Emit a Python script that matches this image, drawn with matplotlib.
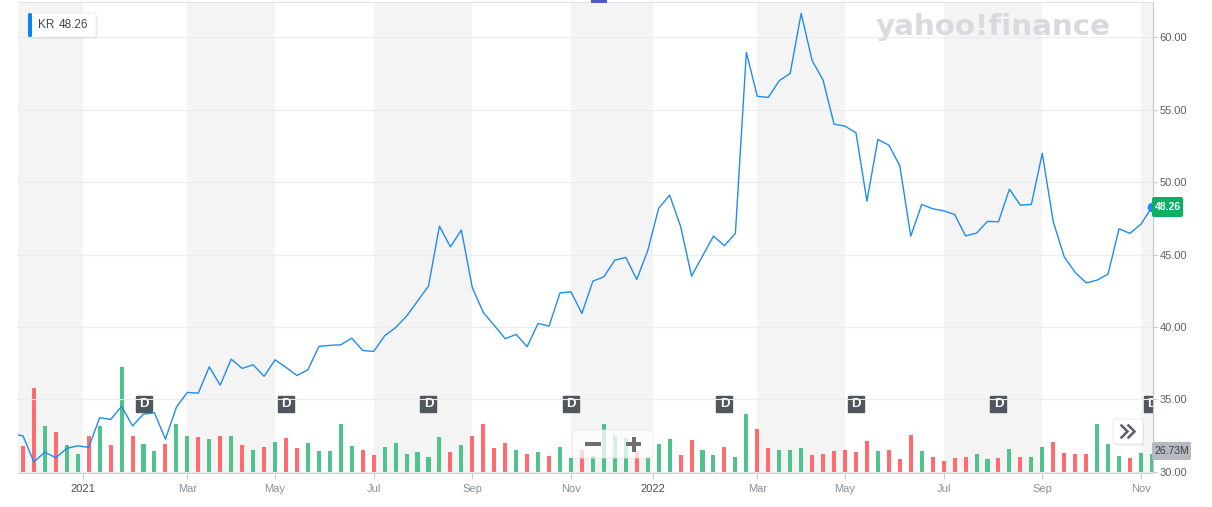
import numpy as np
import pandas as pd
import matplotlib
matplotlib.use("Agg")
import matplotlib.pyplot as plt
from matplotlib.patches import FancyBboxPatch, Rectangle
from matplotlib.lines import Line2D
from matplotlib.transforms import IdentityTransform

plt.rcParams["font.family"] = ["Liberation Sans", "DejaVu Sans"]

W, H = 1212, 507

# === Données (KR, hebdomadaire) ===
symbol = "KR"
first_week = "2020-11-16"
prev_close = 32.6
close = [
    32.47, 30.67, 31.34, 30.95, 31.60, 31.78, 31.67, 33.72, 33.60, 34.50,
    33.16, 33.97, 34.06, 32.24, 34.45, 35.47, 35.42, 37.24, 35.97, 37.77,
    37.13, 37.38, 36.58, 37.72, 37.20, 36.64, 37.03, 38.65, 38.72, 38.76,
    39.22, 38.37, 38.30, 39.38, 39.95, 40.74, 41.78, 42.82, 46.96, 45.53,
    46.69, 42.70, 41.00, 40.10, 39.18, 39.48, 38.63, 40.24, 40.05, 42.35,
    42.42, 40.93, 43.16, 43.46, 44.61, 44.80, 43.28, 45.26, 48.19, 49.10,
    46.95, 43.51, 44.89, 46.27, 45.61, 46.46, 58.97, 55.93, 55.86, 57.01,
    57.52, 61.66, 58.41, 57.05, 54.01, 53.87, 53.41, 48.69, 52.95, 52.56,
    51.13, 46.27, 48.46, 48.16, 48.02, 47.77, 46.29, 46.48, 47.29, 47.26,
    49.52, 48.41, 48.46, 51.99, 47.26, 44.84, 43.76, 43.04, 43.23, 43.65,
    46.78, 46.46, 47.10, 48.26,
]
volume_m = [
    37.6, 116.8, 64.5, 56.7, 38.6, 26.7, 51.3, 64.9, 39.0, 145.4,
    51.3, 40.4, 30.8, 40.4, 67.7, 51.3, 49.9, 47.2, 51.3, 51.3,
    39.0, 32.2, 36.3, 43.1, 48.6, 34.9, 41.7, 30.8, 30.8, 67.7,
    37.6, 32.2, 25.4, 36.3, 41.7, 26.7, 29.5, 22.6, 49.9, 29.5,
    39.0, 51.3, 67.7, 34.9, 41.7, 32.2, 26.7, 29.5, 24.0, 36.3,
    21.3, 32.2, 24.0, 67.7, 51.3, 48.6, 30.8, 22.6, 40.4, 47.2,
    25.4, 45.8, 32.2, 25.4, 36.3, 22.6, 81.3, 60.8, 34.9, 32.2,
    32.2, 34.9, 25.4, 26.7, 30.8, 32.2, 29.5, 44.5, 30.8, 32.2,
    19.9, 52.7, 30.8, 22.6, 17.2, 21.3, 22.6, 26.7, 19.9, 21.3,
    33.6, 22.6, 22.6, 36.3, 43.1, 28.1, 26.7, 26.7, 67.7, 40.4,
    24.0, 21.3, 28.1, 26.73,
]
dividend_weeks = [11, 24, 37, 50, 64, 76, 89, 103]
tick_dates = ["2021-01-01", "2021-03-01", "2021-05-01", "2021-07-01", "2021-09-01",
              "2021-11-01", "2022-01-01", "2022-03-01", "2022-05-01", "2022-07-01",
              "2022-09-01", "2022-11-01"]
tick_labels = ["2021", "Mar", "May", "Jul", "Sep", "Nov",
               "2022", "Mar", "May", "Jul", "Sep", "Nov"]

# === Positions ===
weeks = pd.date_range(first_week, periods=len(close), freq="7D")
idx = np.arange(len(close))


def week_pos(d):
    d = pd.Timestamp(d)
    k = weeks.searchsorted(d, side="right") - 1
    return k - 0.5 if d.month == 1 else float(k)


tick_pos = [week_pos(d) for d in tick_dates]
prev = [prev_close] + close[:-1]
bar_cols = ["#4fc38c" if c >= p else "#ff6b6e" for c, p in zip(close, prev)]

# === Figure ===
fig = plt.figure(figsize=(W / 100, H / 100), dpi=100)
L, R, T, B = 18, 1153, 2, 473.3
axv = fig.add_axes([L / W, 1 - B / H, (R - L) / W, (B - T) / H])
ax = axv.twinx()

xlim = (-0.45, 103.1)
axv.set_xlim(xlim)
axv.set_ylim(0, 643)
ax.set_ylim(29.88, 62.45)

# bandes grises un bimestre sur deux
edges = [xlim[0]] + tick_pos + [xlim[1]]
for a, b in zip(edges[0::2], edges[1::2]):
    axv.axvspan(a, b, color="#f4f4f5", lw=0, zorder=0.5)

axv.bar(idx, volume_m, width=0.37, color=bar_cols, zorder=2)

# filigrane
axv.text(876, H - 35, "yahoo!finance", transform=IdentityTransform(),
         family="DejaVu Sans", fontsize=21.2, fontweight="bold",
         color="#d8dade", va="baseline", ha="left", zorder=1)

# dividendes
xt = axv.get_xaxis_transform()
axv.plot(dividend_weeks, [0.147] * len(dividend_weeks), ls="", marker="s",
         ms=12.2, color="#50565d", transform=xt, zorder=4)
for k in dividend_weeks:
    axv.text(k, 0.147, "D", transform=xt, ha="center", va="center",
             color="white", fontsize=9.5, fontweight="bold", clip_on=True, zorder=5)

# axe x
axv.set_xticks(tick_pos)
axv.set_xticklabels(tick_labels)
axv.tick_params(axis="x", length=4, width=0.8, color="#c8c9cc", pad=4, labelsize=8)
for lab, txt in zip(axv.get_xticklabels(), tick_labels):
    lab.set_color("#4a4f57" if txt.isdigit() else "#8b9096")
axv.set_yticks([])
for s in ["left", "right"]:
    axv.spines[s].set_visible(False)
axv.spines["top"].set_color("#e2e2ec")
axv.spines["bottom"].set_color("#d3d4d6")

# prix
ax.set_yticks(np.arange(30, 61, 5))
ax.yaxis.set_major_formatter(lambda v, _: f"{v:.2f}")
ax.tick_params(axis="y", length=3, width=0.8, color="#c7c9cc", pad=1.5,
               labelsize=8, labelcolor="#5c6168")
ax.grid(axis="y", color="#ebebeb", lw=0.8)
for s in ["left", "top", "bottom"]:
    ax.spines[s].set_visible(False)
ax.spines["right"].set_color("#c6c8cb")

ax.plot(np.r_[-1, idx], [prev_close] + close, color="#1e8cf0", lw=1.0, zorder=3)
ax.plot(idx[-1], close[-1], "o", ms=6, color="#1e8cf0", clip_on=False, zorder=6)


# === éléments d'interface (coordonnées pixels) ===
def box(x0, y0, x1, y1, **kw):
    p = FancyBboxPatch((x0, H - y1), x1 - x0, y1 - y0, transform=IdentityTransform(), **kw)
    fig.add_artist(p)
    return p


def label(x, y, s, **kw):
    fig.text(x, H - y, s, transform=IdentityTransform(), **kw)


# légende KR
box(29, 15, 98, 39, boxstyle="round,pad=0,rounding_size=3", fc="#000000", alpha=0.06, lw=0)
box(28, 13, 96, 37, boxstyle="round,pad=0,rounding_size=3", fc="white", ec="#ececec", lw=0.6)
box(28, 13, 32, 37, boxstyle="round,pad=0,rounding_size=1.5", fc="#0a84f0", lw=0)
label(38, 25.5, symbol, fontsize=8.5, color="#40464d", va="center")
label(59, 25.5, f"{close[-1]:.2f}", fontsize=8.5, color="#40464d", va="center")

# marque en haut
fig.add_artist(Rectangle((591, H - 2.5), 16, 2.5, transform=IdentityTransform(),
                         fc="#4b5bbf", lw=0))

# étiquette du dernier cours
box(1152, 197, 1183, 217, boxstyle="round,pad=0,rounding_size=2", fc="#0bb064", lw=0)
label(1167.5, 207.5, f"{close[-1]:.2f}", fontsize=7.5, fontweight="bold",
      color="white", ha="center", va="center")

# étiquette du dernier volume
box(1152, 442, 1191, 460, boxstyle="round,pad=0,rounding_size=2", fc="#b6b9bf", lw=0)
label(1171.5, 451.5, f"{volume_m[-1]:.2f}M", fontsize=7.5, color="#3d4249",
      ha="center", va="center")

# bouton >>
box(1114, 420, 1144, 446, boxstyle="round,pad=0,rounding_size=3", fc="#000000", alpha=0.05, lw=0)
box(1113, 419, 1143, 444, boxstyle="round,pad=0,rounding_size=3", fc="white", ec="#e6e6e6", lw=0.6)
for dx in (0, 7):
    fig.add_artist(Line2D([1121.5 + dx, 1127.5 + dx, 1121.5 + dx], [H - 425.5, H - 431.5, H - 437.5],
                          transform=IdentityTransform(), color="#5d6167", lw=1.8,
                          solid_joinstyle="miter"))

# contrôle zoom - +
box(572, 430, 653, 458, boxstyle="round,pad=0,rounding_size=3", fc="white", alpha=0.75,
    ec="#e6e6e6", lw=0.6)
fig.add_artist(Line2D([613, 613], [H - 432, H - 456], transform=IdentityTransform(),
                      color="#ececec", lw=0.8))
for (x0, y0, w, h) in [(585, 442, 16, 4), (626, 442, 15, 4), (631.5, 436.5, 4, 15)]:
    fig.add_artist(Rectangle((x0, H - y0 - h), w, h, transform=IdentityTransform(),
                             fc="#6e6e6e", lw=0))

fig.savefig("out.png", dpi=100, facecolor="white")
